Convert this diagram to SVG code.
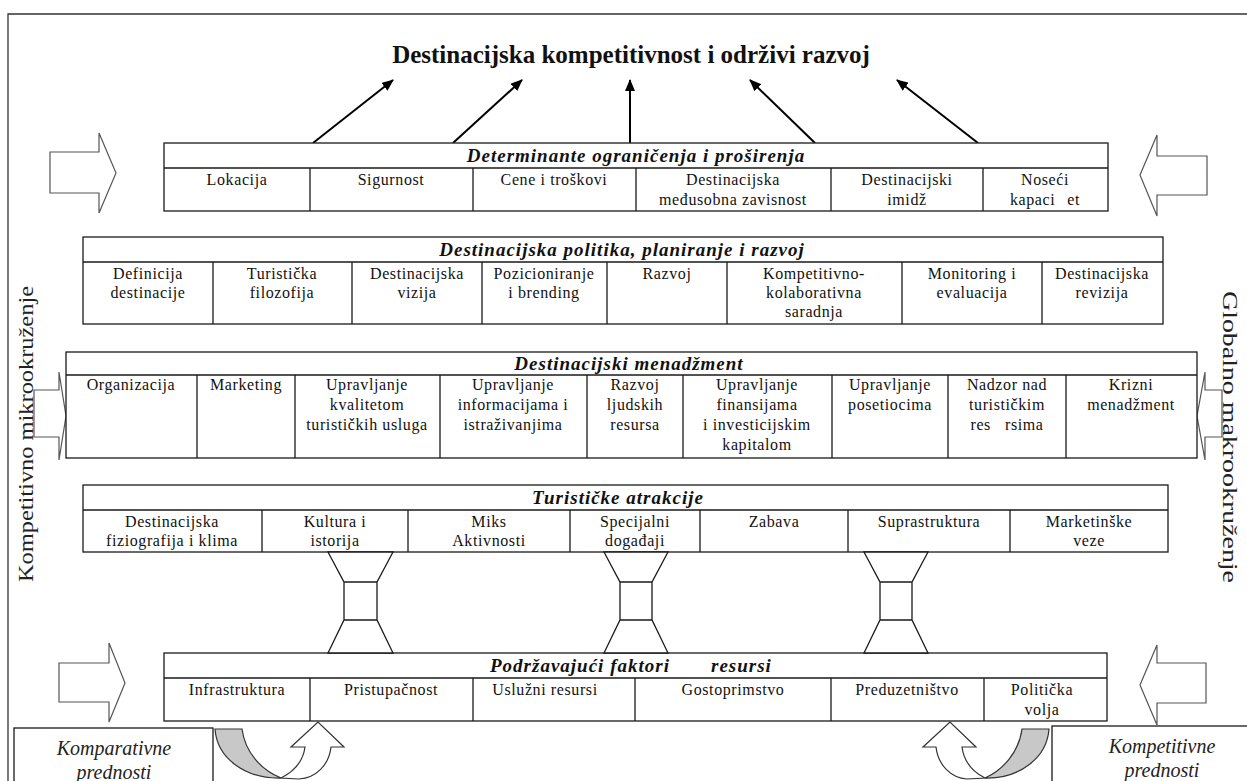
<svg xmlns="http://www.w3.org/2000/svg" width="1247" height="781" viewBox="0 0 1247 781">
<style>
.bx{fill:#fff;stroke:#1a1a1a;stroke-width:1.3}
.ln{stroke:#1a1a1a;stroke-width:1.3;fill:none}
.hdr{font-family:"Liberation Serif","Times New Roman",serif;font-size:19px;font-weight:bold;font-style:italic;letter-spacing:1px;text-anchor:middle;fill:#111}
.c{font-family:"Liberation Serif","Times New Roman",serif;font-size:16px;letter-spacing:0.6px;text-anchor:middle;fill:#111}
.big{fill:#fff;stroke:#555;stroke-width:1.2}
.conn{stroke:#000;stroke-width:2;fill:none;marker-end:url(#ah)}
.side{font-family:"Liberation Serif","Times New Roman",serif;font-size:21px;text-anchor:middle;fill:#222}
.adv{font-family:"Liberation Serif","Times New Roman",serif;font-size:20px;font-style:italic;text-anchor:middle;fill:#222}
.hg{fill:#fff;stroke:#1a1a1a;stroke-width:1.3}
</style>
<defs>
<marker id="ah" viewBox="0 0 12 10" refX="11" refY="5" markerWidth="12" markerHeight="10" markerUnits="userSpaceOnUse" orient="auto"><path d="M0,0 L12,5 L0,10 Z" fill="#000"/></marker>
</defs>
<rect width="1247" height="781" fill="#fff"/>
<g id="frame"><path d="M8,781 L8,14 L1247,14" class="ln" style="stroke:#333"/></g>

<g id="title"><text x="631" y="63" style="font-family:'Liberation Serif','Times New Roman',serif;font-size:25px;font-weight:bold;text-anchor:middle;fill:#111">Destinacijska kompetitivnost i održivi razvoj</text></g>

<g id="side-left"><text class="side" transform="translate(33,434) rotate(-90)" textLength="296" lengthAdjust="spacingAndGlyphs">Kompetitivno mikrookruženje</text></g>
<g id="side-right"><text class="side" transform="translate(1223,437) rotate(90)" textLength="292" lengthAdjust="spacingAndGlyphs">Globalno makrookruženje</text></g>

<g id="block-arrows">
<path class="big" d="M50,152 L99,152 L99,133 L116,173 L99,213 L99,193 L50,193 Z"/>
<path class="big" d="M1207,156 L1157,156 L1157,135 L1140,175 L1157,216 L1157,195 L1207,195 Z"/>
<path class="big" d="M34,390 L59,390 L59,372 L66,416 L59,460 L59,437 L34,437 Z"/>
<path class="big" d="M1222,390 L1205,390 L1205,372 L1197,416 L1205,460 L1205,437 L1222,437 Z"/>
<path class="big" d="M59,663 L109,663 L109,643 L125,683 L109,722 L109,702 L59,702 Z"/>
<path class="big" d="M1206,663 L1157,663 L1157,645 L1140,685 L1157,725 L1157,703 L1206,703 Z"/>
</g>

<g id="connectors">
<line class="conn" x1="313" y1="143" x2="393" y2="80"/>
<line class="conn" x1="453" y1="143" x2="522" y2="80"/>
<line class="conn" x1="630" y1="143" x2="630" y2="80"/>
<line class="conn" x1="815" y1="143" x2="750" y2="80"/>
<line class="conn" x1="978" y1="143" x2="897" y2="80"/>
</g>

<g id="determinante">
<rect class="bx" x="164" y="143" width="944" height="68"/>
<path class="ln" d="M164,168 H1108 M310,168 V211 M473,168 V211 M636,168 V211 M831,168 V211 M983,168 V211"/>
<text class="hdr" x="636" y="162">Determinante ograničenja i proširenja</text>
<text class="c" x="237" y="185">Lokacija</text>
<text class="c" x="391" y="185">Sigurnost</text>
<text class="c" x="554" y="185">Cene i troškovi</text>
<text class="c"><tspan x="733" y="185">Destinacijska</tspan><tspan x="733" y="205">međusobna zavisnost</tspan></text>
<text class="c"><tspan x="907" y="185">Destinacijski</tspan><tspan x="907" y="205">imidž</tspan></text>
<text class="c"><tspan x="1045" y="185">Noseći</tspan><tspan x="1045" y="205">kapaci</tspan><tspan dx="12">et</tspan></text>
</g>

<g id="politika">
<rect class="bx" x="83" y="237" width="1080" height="87"/>
<path class="ln" d="M83,262 H1163 M213,262 V324 M352,262 V324 M482,262 V324 M607,262 V324 M727,262 V324 M902,262 V324 M1042,262 V324"/>
<text class="hdr" x="622" y="256">Destinacijska politika, planiranje i razvoj</text>
<text class="c"><tspan x="148" y="279">Definicija</tspan><tspan x="148" y="298">destinacije</tspan></text>
<text class="c"><tspan x="282" y="279">Turistička</tspan><tspan x="282" y="298">filozofija</tspan></text>
<text class="c"><tspan x="417" y="279">Destinacijska</tspan><tspan x="417" y="298">vizija</tspan></text>
<text class="c"><tspan x="544" y="279">Pozicioniranje</tspan><tspan x="544" y="298">i brending</tspan></text>
<text class="c" x="667" y="279">Razvoj</text>
<text class="c"><tspan x="814" y="279">Kompetitivno-</tspan><tspan x="814" y="298">kolaborativna</tspan><tspan x="814" y="317">saradnja</tspan></text>
<text class="c"><tspan x="972" y="279">Monitoring i</tspan><tspan x="972" y="298">evaluacija</tspan></text>
<text class="c"><tspan x="1102" y="279">Destinacijska</tspan><tspan x="1102" y="298">revizija</tspan></text>
</g>

<g id="menadzment">
<rect class="bx" x="66" y="352" width="1131" height="106"/>
<path class="ln" d="M66,375 H1197 M197,375 V458 M295,375 V458 M440,375 V458 M587,375 V458 M683,375 V458 M832,375 V458 M948,375 V458 M1066,375 V458"/>
<text class="hdr" x="629" y="370">Destinacijski menadžment</text>
<text class="c" x="131" y="390">Organizacija</text>
<text class="c" x="246" y="390">Marketing</text>
<text class="c"><tspan x="367" y="390">Upravljanje</tspan><tspan x="367" y="410">kvalitetom</tspan><tspan x="367" y="430">turističkih usluga</tspan></text>
<text class="c"><tspan x="513" y="390">Upravljanje</tspan><tspan x="513" y="410">informacijama i</tspan><tspan x="513" y="430">istraživanjima</tspan></text>
<text class="c"><tspan x="635" y="390">Razvoj</tspan><tspan x="635" y="410">ljudskih</tspan><tspan x="635" y="430">resursa</tspan></text>
<text class="c"><tspan x="757" y="390">Upravljanje</tspan><tspan x="757" y="410">finansijama</tspan><tspan x="757" y="430">i investicijskim</tspan><tspan x="757" y="450">kapitalom</tspan></text>
<text class="c"><tspan x="890" y="390">Upravljanje</tspan><tspan x="890" y="410">posetiocima</tspan></text>
<text class="c"><tspan x="1007" y="390">Nadzor nad</tspan><tspan x="1007" y="410">turističkim</tspan><tspan x="1007" y="430">res</tspan><tspan dx="14">rsima</tspan></text>
<text class="c"><tspan x="1131" y="390">Krizni</tspan><tspan x="1131" y="410">menadžment</tspan></text>
</g>

<g id="atrakcije">
<rect class="bx" x="83" y="485" width="1085" height="67"/>
<path class="ln" d="M83,510 H1168 M262,510 V552 M408,510 V552 M570,510 V552 M700,510 V552 M848,510 V552 M1010,510 V552"/>
<text class="hdr" x="618" y="504">Turističke atrakcije</text>
<text class="c"><tspan x="172" y="527">Destinacijska</tspan><tspan x="172" y="546">fiziografija i klima</tspan></text>
<text class="c"><tspan x="335" y="527">Kultura i</tspan><tspan x="335" y="546">istorija</tspan></text>
<text class="c"><tspan x="489" y="527">Miks</tspan><tspan x="489" y="546">Aktivnosti</tspan></text>
<text class="c"><tspan x="635" y="527">Specijalni</tspan><tspan x="635" y="546">događaji</tspan></text>
<text class="c" x="774" y="527">Zabava</text>
<text class="c" x="929" y="527">Suprastruktura</text>
<text class="c"><tspan x="1089" y="527">Marketinške</tspan><tspan x="1089" y="546">veze</tspan></text>
</g>

<g id="podrzavajuci">
<rect class="bx" x="164" y="653" width="943" height="68"/>
<path class="ln" d="M164,678 H1107 M310,678 V721 M473,678 V721 M635,678 V721 M831,678 V721 M984,678 V721"/>
<text class="hdr" y="672" style="text-anchor:start"><tspan x="490">Podržavajući faktori</tspan><tspan x="711">resursi</tspan></text>
<text class="c" x="237" y="695">Infrastruktura</text>
<text class="c" x="391" y="695">Pristupačnost</text>
<text class="c" x="545" y="695">Uslužni resursi</text>
<text class="c" x="733" y="695">Gostoprimstvo</text>
<text class="c" x="907" y="695">Preduzetništvo</text>
<text class="c"><tspan x="1042" y="695">Politička</tspan><tspan x="1042" y="715">volja</tspan></text>
</g>

<g id="hourglasses">
<path class="hg" d="M328,552 L393,552 L377,582 L344,582 Z M344,582 H377 V620 H344 Z M344,620 L377,620 L393,653 L328,653 Z"/>
<path class="hg" d="M604,552 L668,552 L652,582 L620,582 Z M620,582 H652 V620 H620 Z M620,620 L652,620 L668,653 L604,653 Z"/>
<path class="hg" d="M864,552 L928,552 L912,582 L880,582 Z M880,582 H912 V620 H880 Z M880,620 L912,620 L928,653 L864,653 Z"/>
</g>

<g id="komparativne">
<rect class="bx" x="14" y="728" width="199" height="70"/>
<text class="adv"><tspan x="114" y="755">Komparativne</tspan><tspan x="114" y="779">prednosti</tspan></text>
</g>
<g id="kompetitivne">
<rect class="bx" x="1052" y="726" width="210" height="70"/>
<text class="adv"><tspan x="1162" y="753">Kompetitivne</tspan><tspan x="1162" y="777">prednosti</tspan></text>
</g>

<g id="u-arrows">
<path d="M215,729 L242,729 C245,752 261,770 281,778 C245,779 217,758 215,729 Z" fill="#c8c8c8" stroke="#333" stroke-width="1.2"/>
<path d="M281,778 C293,772 303,762 305,747 L291,747 L318,722 L344,747 L331,747 C329,765 316,778 299,779 Z" fill="#fff" stroke="#333" stroke-width="1.2"/>
<path d="M1049,729 L1022,729 C1019,752 1003,770 985,778 C1019,779 1047,758 1049,729 Z" fill="#c8c8c8" stroke="#333" stroke-width="1.2"/>
<path d="M985,778 C973,772 964,762 962,747 L976,747 L950,722 L923,747 L936,747 C938,765 951,778 967,779 Z" fill="#fff" stroke="#333" stroke-width="1.2"/>
</g>
</svg>
